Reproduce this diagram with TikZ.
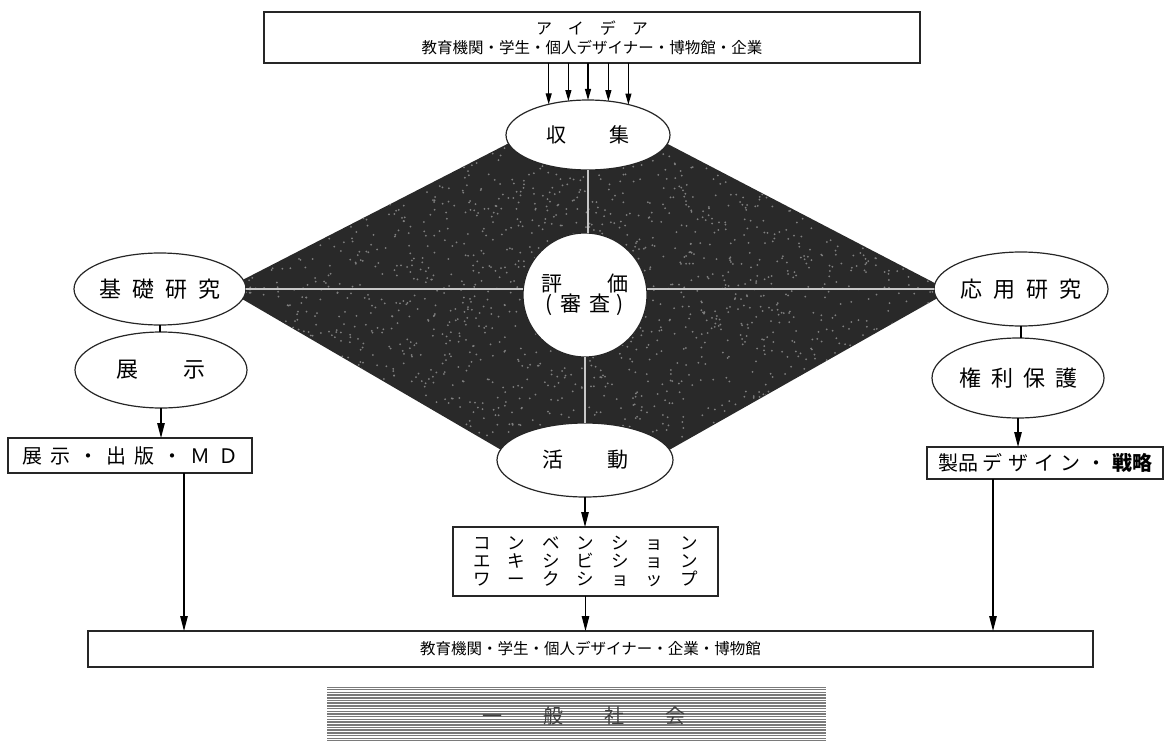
\documentclass[tikz,border=0pt]{standalone}
\usepackage{fontspec}
\setmainfont{Noto Sans CJK JP}
\usetikzlibrary{shapes.geometric,arrows.meta,calc}
\newcommand\jg[1]{\hspace{#1pt}}
\begin{document}
\begin{tikzpicture}[x=1pt,y=-1pt,
  every node/.style={inner sep=0pt, outer sep=0pt},
  oval/.style={ellipse, draw=black!85, fill=white, line width=1.2pt},
  rbox/.style={rectangle, draw=black!85, fill=white, line width=1.2pt},
  arr/.style={-{Triangle[length=15pt,width=7.5pt]}, line width=1.1pt},
  tarr/.style={-{Triangle[length=11pt,width=6pt]}, line width=1.1pt},
  link/.style={line width=1.1pt},
  wline/.style={line width=1.4pt, draw=white!78!black},
  ]
\useasboundingbox (0,0) rectangle (1169,741);
% dark diamond
\fill[black!84] (225,289) -- (515,140) -- (660,140) -- (950,291) -- (655,458) -- (515,458) -- cycle;
\begin{scope}
\clip (225,289) -- (515,140) -- (660,140) -- (950,291) -- (655,458) -- (515,458) -- cycle;
\pgfmathsetseed{11}
\foreach \i in {1,...,2200}{
  \pgfmathsetmacro\xx{225+725*rnd}
  \pgfmathsetmacro\yy{140+318*rnd}
  \fill[black!50] (\xx,\yy) circle[radius=1pt];
}
\end{scope}
% nodes
\node[rbox, minimum width=656pt, minimum height=51pt, align=center,
  font=\fontsize{15.5}{19}\selectfont] (ideas) at (592,37.5)
  {{\fontsize{16}{19}\selectfont ア\jg{16}イ\jg{16}デ\jg{16}ア}\\教育機関・学生・個人デザイナー・博物館・企業};
\node[oval, minimum width=164pt, minimum height=70pt, font=\fontsize{20}{22}\selectfont] (shu) at (588,135) {収\jg{43}集};
\node[circle, draw=black!85, fill=white, line width=1.2pt, minimum size=124pt, align=center,
  font=\fontsize{21}{19}\selectfont] (hyoka) at (585,295)
  {評\jg{46}価\\(\jg{7}審\jg{8}査\jg{7})};
\node[oval, minimum width=172pt, minimum height=72pt, font=\fontsize{22}{24}\selectfont] (kiso) at (160,289) {基\jg{11}礎\jg{11}研\jg{11}究};
\node[oval, minimum width=172pt, minimum height=76pt, font=\fontsize{22}{24}\selectfont] (tenji) at (161,370) {展\jg{45}示};
\node[oval, minimum width=174pt, minimum height=74pt, font=\fontsize{22}{24}\selectfont] (oyo) at (1021,289) {応\jg{11}用\jg{11}研\jg{11}究};
\node[oval, minimum width=172pt, minimum height=80pt, font=\fontsize{22}{24}\selectfont] (kenri) at (1018,378) {権\jg{10}利\jg{10}保\jg{10}護};
\node[oval, minimum width=176pt, minimum height=74pt, font=\fontsize{21}{24}\selectfont] (katsudo) at (585,460) {活\jg{44}動};
\node[rbox, minimum width=244pt, minimum height=35pt, font=\fontsize{20}{22}\selectfont] (box1) at (130,455.5)
  {展\jg{8}示\jg{8}・\jg{8}出\jg{8}版\jg{8}・\jg{8}Ｍ\jg{8}Ｄ};
\node[rbox, minimum width=265pt, minimum height=69pt, align=center, font=\fontsize{17.5}{18}\selectfont] (box2) at (585.5,561.5)
  {コ\jg{17}ン\jg{17}ベ\jg{17}ン\jg{17}シ\jg{17}ョ\jg{17}ン\\エ\jg{17}キ\jg{17}シ\jg{17}ビ\jg{17}シ\jg{17}ョ\jg{17}ン\\ワ\jg{17}ー\jg{17}ク\jg{17}シ\jg{17}ョ\jg{17}ッ\jg{17}プ};
\node[rbox, minimum width=236pt, minimum height=32pt, font=\fontsize{20}{22}\selectfont] (box3) at (1045,463)
  {製品\jg{4}デ\jg{6}ザ\jg{6}イ\jg{6}ン\jg{6}・\jg{6}{\bfseries 戦略}};
\node[rbox, minimum width=1005pt, minimum height=36pt, font=\fontsize{15.5}{18}\selectfont] (bottom) at (590.5,649)
  {教育機関・学生・個人デザイナー・企業・博物館};
% society box with horizontal rules
\node[rectangle, minimum width=499pt, minimum height=53pt] (society) at (576.5,713.5) {};
\begin{scope}
\clip (society.south west) rectangle (society.north east);
\foreach \yy in {0,2.7,...,54}{
  \draw[black!52, line width=1.5pt] ($(society.north west)+(0,\yy)$) -- ($(society.north east)+(0,\yy)$);
}
\end{scope}
\node[font=\fontsize{20}{22}\selectfont, text=black!75] (soctext) at (584,716) {一\jg{41}般\jg{41}社\jg{41}会};
% white links inside diamond
\draw[wline] (kiso.east) -- (kiso.east -| hyoka.west);
\draw[wline] (oyo.west) -- (oyo.west -| hyoka.east);
\draw[wline] (shu.south) -- (shu.south |- hyoka.north);
\draw[wline] (hyoka.south) -- (hyoka.south |- katsudo.north);
% top arrows
\foreach \a in {142.7,120.5,90,59.5,37.3}{
  \draw[tarr] (ideas.south -| shu.\a) -- (shu.\a);
}
% left column
\draw[link] (kiso.south) -- (kiso.south |- tenji.north);
\draw[arr] (tenji.south) -- (tenji.south |- box1.north);
\coordinate (b1o) at ($(box1.south)+(54,0)$);
\draw[arr] (b1o) -- (b1o |- bottom.north);
% right column
\draw[link] (oyo.south) -- (oyo.south |- kenri.north);
\draw[arr] (kenri.south) -- (kenri.south |- box3.north);
\coordinate (b3o) at ($(box3.south)+(-52,0)$);
\draw[arr] (b3o) -- (b3o |- bottom.north);
% middle column
\draw[arr] (katsudo.south) -- (katsudo.south |- box2.north);
\draw[arr] (box2.south) -- (box2.south |- bottom.north);
\end{tikzpicture}
\end{document}
